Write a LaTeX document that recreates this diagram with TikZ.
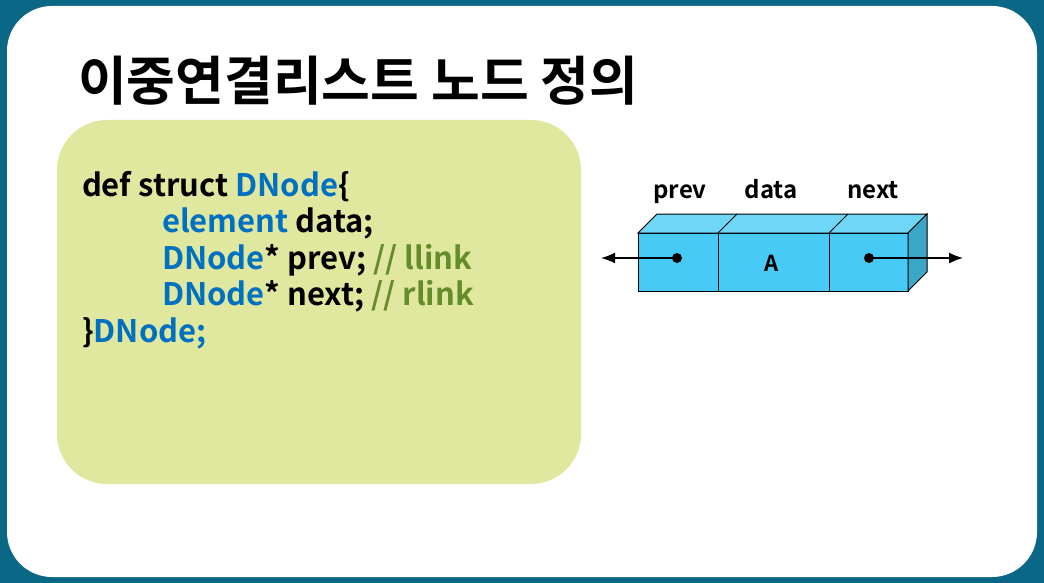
\documentclass[tikz,border=0pt]{standalone}
\usepackage{fontspec}
\setmainfont{Noto Sans CJK KR}[BoldFont={* Bold}]
\newfontfamily\kr{Noto Sans CJK KR Bold}
\usetikzlibrary{positioning, arrows.meta}

\definecolor{frame}{RGB}{10,103,133}
\definecolor{codebg}{RGB}{224,231,159}
\definecolor{kwblue}{RGB}{0,112,192}
\definecolor{cmtgreen}{RGB}{100,140,42}
\definecolor{cellfront}{RGB}{72,202,246}
\definecolor{celltop}{RGB}{110,214,246}
\definecolor{cellside}{RGB}{58,166,200}

\newcommand{\kw}[1]{\textcolor{kwblue}{#1}}
\newcommand{\cmt}[1]{\textcolor{cmtgreen}{#1}}

\begin{document}
\begin{tikzpicture}[
    x=1pt, y=-1pt,
    every node/.style = {inner sep=0pt, outer sep=0pt},
    codeline/.style = {anchor=base west, font=\kr\fontsize{31}{36}\selectfont},
    cell/.style = {draw=black, line width=1pt, fill=cellfront, minimum height=58pt, anchor=north west},
    celllabel/.style = {font=\kr\fontsize{24}{28}\selectfont, anchor=base},
    link/.style = {line width=1.5pt, -{Latex[length=14pt, width=11pt]}}
]
    % background and slide
    \fill[frame] (0,0) rectangle (1044,583);
    \fill[white, rounded corners=45pt] (7,6) rectangle (1037,577);

    % title
    \node (title) [anchor=base west, font=\kr\fontsize{53}{59}\selectfont] at (78,101) {이중연결리스트 노드 정의};

    % code box
    \fill[codebg, rounded corners=50pt] (57,120) rectangle (581,484);
    \node (l1) [codeline] at (82,196) {def struct \kw{DNode}\{};
    \node (l2) [codeline] at (162,232) {\kw{element} data;};
    \node (l3) [codeline] at (162,269) {\kw{DNode}* prev; \cmt{// llink}};
    \node (l4) [codeline] at (162,305) {\kw{DNode}* next; \cmt{// rlink}};
    \node (l5) [codeline] at (82,342) {\}\kw{DNode;}};

    % node cells
    \node (prev) [cell, minimum width=80pt] at (638,233) {};
    \node (data) [cell, minimum width=111pt] at (718,233) {};
    \node (next) [cell, minimum width=79pt] at (829,233) {};

    % top and side faces
    \draw[fill=celltop, line width=1pt] (prev.north west) -- ++(19,-19) -- ([xshift=19pt,yshift=19pt]next.north east) -- (next.north east) -- cycle;
    \draw[fill=cellside, line width=1pt] (next.north east) -- ++(19,-19) -- ([xshift=19pt,yshift=19pt]next.south east) -- (next.south east) -- cycle;
    \draw[line width=1pt] (data.north west) -- ++(19,-19) (data.north east) -- ++(19,-19);

    % labels
    \node [celllabel] at (680,198) {prev};
    \node [celllabel] at (771,198) {data};
    \node [celllabel] at (873,198) {next};
    \node [font=\kr\fontsize{22}{26}\selectfont] at (772,263) {A};

    % links
    \coordinate (lptr) at (677,258);
    \coordinate (rptr) at (869,258);
    \coordinate (lend) at (601,258);
    \coordinate (rend) at (963,258);
    \fill (lptr) circle (5pt);
    \fill (rptr) circle (5pt);
    \draw[link] (lptr) -- (lend);
    \draw[link] (rptr) -- (rend);
\end{tikzpicture}
\end{document}
